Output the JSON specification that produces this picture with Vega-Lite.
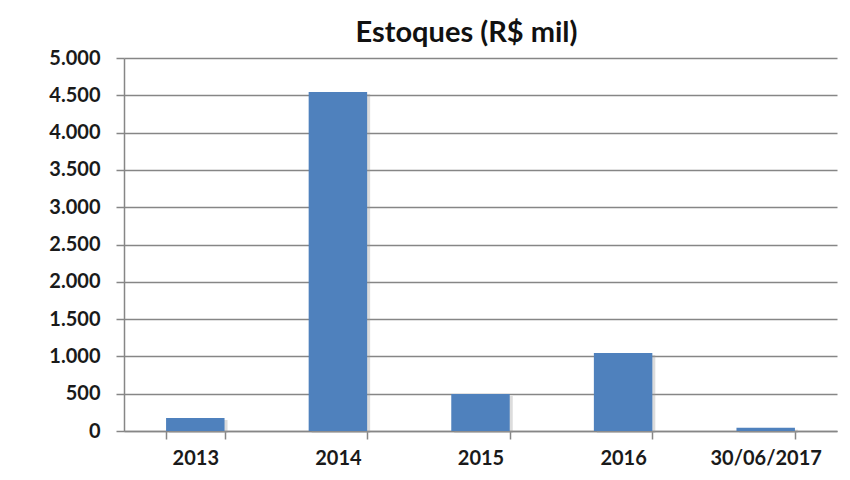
{
  "$schema": "https://vega.github.io/schema/vega-lite/v6.json",
  "autosize": "none",
  "width": 713,
  "height": 373,
  "padding": {"left": 124, "top": 58, "right": 13, "bottom": 49},
  "background": "white",
  "title": {
    "text": "Estoques (R$ mil)",
    "font": "Lato",
    "fontSize": 29,
    "fontWeight": "bold",
    "color": "#111111",
    "anchor": "middle",
    "dx": -14,
    "offset": 0
  },
  "config": {
    "locale": {"number": {"decimal": ",", "thousands": ".", "grouping": [3], "currency": ["R$", ""]}},
    "view": {"stroke": null},
    "axis": {
      "labelFont": "Lato",
      "labelFontSize": 20,
      "labelFontWeight": "bold",
      "labelColor": "#1a1a1a",
      "domainColor": "#868686",
      "tickColor": "#868686",
      "gridColor": "#868686",
      "domainWidth": 1.5,
      "tickWidth": 1.5,
      "gridWidth": 1.5,
      "tickSize": 8,
      "title": null
    }
  },
  "data": {
    "values": [
      {"periodo": "2013", "valor": 175},
      {"periodo": "2014", "valor": 4545},
      {"periodo": "2015", "valor": 496},
      {"periodo": "2016", "valor": 1045},
      {"periodo": "30/06/2017", "valor": 45}
    ]
  },
  "encoding": {
    "x": {
      "field": "periodo",
      "type": "nominal",
      "sort": null,
      "scale": {"paddingInner": 0.59, "paddingOuter": 0.295},
      "axis": {"labelAngle": 0, "tickBand": "extent", "labelPadding": 9, "grid": false}
    },
    "y": {
      "field": "valor",
      "type": "quantitative",
      "scale": {"domain": [0, 5000], "nice": false},
      "axis": {"values": [0, 500, 1000, 1500, 2000, 2500, 3000, 3500, 4000, 4500, 5000], "format": ",d", "labelPadding": 16, "grid": true}
    }
  },
  "layer": [
    {"mark": {"type": "bar", "color": "#9a9a9a", "opacity": 0.35, "xOffset": 3, "yOffset": 2}},
    {"mark": {"type": "bar", "color": "#4F81BD"}}
  ]
}
